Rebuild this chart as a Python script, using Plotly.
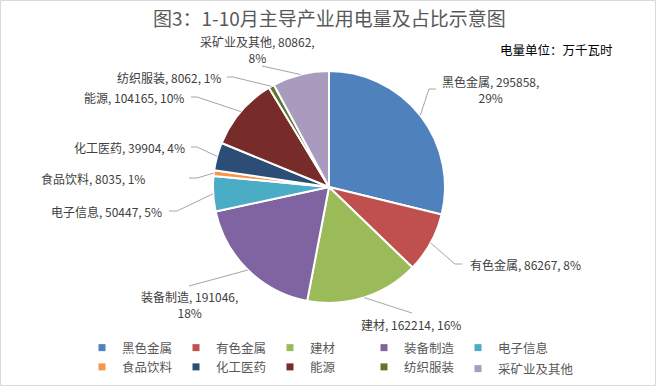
import math
import plotly.graph_objects as go

# ---------------- data ----------------
categories = ["黑色金属", "有色金属", "建材", "装备制造", "电子信息",
              "食品饮料", "化工医药", "能源", "纺织服装", "采矿业及其他"]
values = [295858, 86267, 162214, 191046, 50447, 8035, 39904, 104165, 8062, 80862]
percent_labels = [29, 8, 16, 18, 5, 1, 4, 10, 1, 8]
colors = ["#4F81BD", "#C0504D", "#9BBB59", "#8064A2", "#4BACC6",
          "#F79646", "#2C4D75", "#772C2A", "#5F7530", "#A89BBE"]
title_text = "图3：1-10月主导产业用电量及占比示意图"
unit_text = "电量单位：万千瓦时"

# ---------------- layout geometry (pixels) ----------------
W, H = 657, 387
ML, MR, MT, MB = 70, 87, 0, 0
PW, PH = W - ML - MR, H - MT - MB
CX, CY, R = 329, 187, 116


def px(x):
    return (x - ML) / PW


def py(y):
    return 1 - (y - MT) / PH


# label placement: (text x, text y, xanchor, elbow points toward text)
label_layout = [
    (490, 90, "center", [(429, 89), (436, 89)]),
    (468, 264, "left", [(455, 264), (462, 264)]),
    (411, 324, "center", [(412, 313)]),
    (189, 304, "center", [(189, 286)]),
    (164, 211, "right", [(177, 211), (169, 211)]),
    (147, 178, "right", [(197, 178), (189, 178)]),
    (187, 147, "right", [(197, 147), (191, 147)]),
    (186, 97, "right", [(197, 97), (191, 97)]),
    (223, 77, "right", [(233, 77), (227, 77)]),
    (257, 50, "center", [(262, 66)]),
]
two_line = {0, 3, 9}

total = sum(values)
fig = go.Figure()
fig.add_trace(go.Pie(
    labels=categories, values=values, sort=False, direction="clockwise",
    rotation=0, textinfo="none", hoverinfo="label+value+percent",
    showlegend=False,
    marker=dict(colors=colors, line=dict(color="white", width=2)),
    domain=dict(x=[px(CX - R), px(CX + R)], y=[py(CY + R), py(CY - R)]),
))

# legend entries (small square swatches, like the original)
for i, (cat, col) in enumerate(zip(categories, colors)):
    fig.add_trace(go.Scatter(
        x=[None], y=[None], mode="markers", name=cat,
        marker=dict(symbol="square", size=7, color=col),
        legend="legend2" if i == len(categories) - 1 else "legend",
        hoverinfo="skip",
    ))

annotations = []
shapes = []
cum = 0
for i, (cat, v) in enumerate(zip(categories, values)):
    frac_mid = (cum + v / 2) / total
    cum += v
    ang = 2 * math.pi * frac_mid
    ex, ey = CX + R * math.sin(ang), CY - R * math.cos(ang)
    pct = percent_labels[i]
    tx, ty, xa, pts = label_layout[i]
    if i in two_line:
        txt = f"{cat}, {v},<br>{pct}%"
    else:
        txt = f"{cat}, {v}, {pct}%"
    annotations.append(dict(
        x=px(tx), y=py(ty), xref="paper", yref="paper", text=txt,
        showarrow=False, xanchor=xa, yanchor="middle", align="center",
        font=dict(size=12, color="#404040", family="Noto Sans CJK SC"),
    ))
    path = f"M {px(ex)} {py(ey)}"
    for (qx, qy) in pts:
        path += f" L {px(qx)} {py(qy)}"
    shapes.append(dict(type="path", xref="paper", yref="paper", path=path,
                       line=dict(color="#A6A6A6", width=1)))

annotations.append(dict(
    x=px(329), y=py(17), xref="paper", yref="paper", text=title_text,
    showarrow=False, xanchor="center", yanchor="middle",
    font=dict(size=19, color="#595959", family="Noto Sans CJK SC"),
))
annotations.append(dict(
    x=px(615), y=py(50), xref="paper", yref="paper", text=unit_text,
    showarrow=False, xanchor="right", yanchor="middle",
    font=dict(size=12.5, color="#000000", family="Noto Sans CJK SC"),
))

# chart frame
shapes.append(dict(type="rect", xref="paper", yref="paper",
                   x0=px(0.5), x1=px(W - 1.5), y0=py(H - 1.5), y1=py(0.5),
                   line=dict(color="#D9D9D9", width=1)))

legend_font = dict(size=12.5, color="#595959", family="Noto Sans CJK SC")
fig.update_layout(
    width=W, height=H,
    margin=dict(l=ML, r=MR, t=MT, b=MB),
    paper_bgcolor="white", plot_bgcolor="white",
    showlegend=True,
    xaxis=dict(visible=False), yaxis=dict(visible=False),
    legend=dict(orientation="h", x=px(82), xanchor="left",
                y=py(333), yanchor="top",
                entrywidth=49, entrywidthmode="pixels",
                font=legend_font, traceorder="normal", itemclick=False,
                itemdoubleclick=False),
    legend2=dict(orientation="h", x=px(82 + 4 * 94), xanchor="left",
                 y=py(354), yanchor="top",
                 font=legend_font, itemclick=False, itemdoubleclick=False),
    annotations=annotations, shapes=shapes,
)

fig.write_html("out.html", config={"displayModeBar": False},
               post_script="document.body.style.margin='0';document.body.style.overflow='hidden';")
